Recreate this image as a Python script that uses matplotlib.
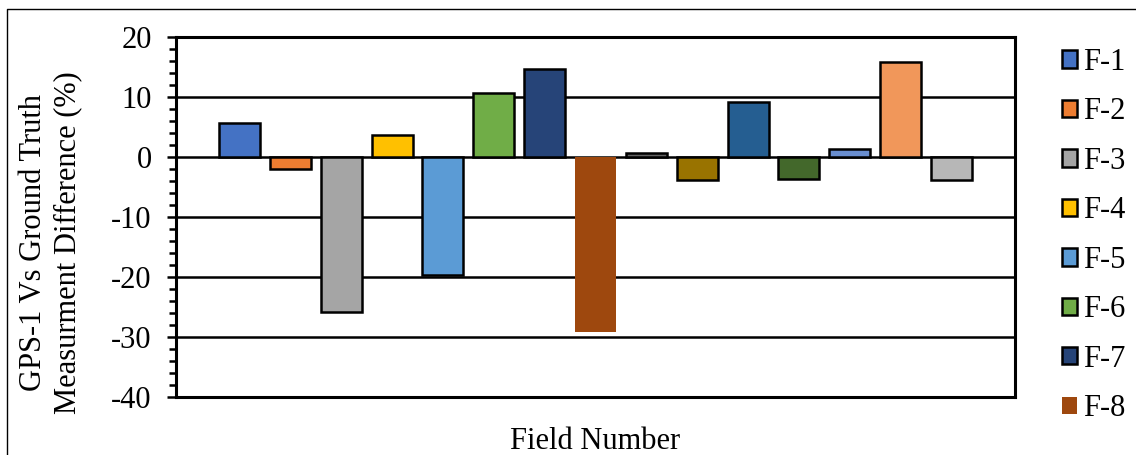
import numpy as np
import matplotlib.pyplot as plt
from matplotlib.lines import Line2D

plt.rcParams['font.family'] = ['Liberation Serif', 'DejaVu Serif']
plt.rcParams['axes.unicode_minus'] = False

fields = ['F-1', 'F-2', 'F-3', 'F-4', 'F-5', 'F-6', 'F-7', 'F-8',
          'F-9', 'F-10', 'F-11', 'F-12', 'F-13', 'F-14', 'F-15']
diff_pct = [5.7, -2.0, -25.9, 3.7, -19.7, 10.7, 14.7, -29.2,
            0.6, -3.9, 9.1, -3.7, 1.4, 15.9, -3.9]
colors = ['#4472C4', '#ED7D31', '#A5A5A5', '#FFC000', '#5B9BD5', '#70AD47',
          '#264478', '#9E480E', '#636363', '#997300', '#255E91', '#43682B',
          '#698ED0', '#F1975A', '#B7B7B7']

fig = plt.figure(figsize=(11.36, 4.55), dpi=100)
ax = fig.add_axes([0.1549, 0.1275, 0.7386, 0.7912])

x = np.arange(len(fields))
bars = []
for i, (name, val, c) in enumerate(zip(fields, diff_pct, colors)):
    edge = 'none' if name == 'F-8' else 'black'
    b = ax.bar(x[i], val, width=0.806, color=c, edgecolor=edge, linewidth=1.8,
               label=name, zorder=3)
    bars.append(b)

ax.set_xlim(-1.248, 15.248)
ax.set_ylim(-40, 20)
ax.set_yticks(np.arange(-40, 21, 10))
ax.set_yticks(np.arange(-40, 21, 2), minor=True)
ax.set_xticks([])
ax.yaxis.grid(True, which='major', color='black', linewidth=1.8, zorder=1)
ax.set_axisbelow(True)
for s in ax.spines.values():
    s.set_linewidth(2.2)
    s.set_color('black')
ax.tick_params(axis='y', which='major', length=6.5, width=1.8, pad=11,
               labelsize=22, direction='out')
ax.tick_params(axis='y', which='minor', length=5, width=1.8, direction='out')

fig.text(0.0445, 0.466, 'GPS-1 Vs Ground Truth\nMeasurment Difference (%)',
         rotation=90, ha='center', va='center', multialignment='center',
         fontsize=22, linespacing=1.25)
fig.text(0.524, 0.0132, 'Field Number', ha='center', va='baseline', fontsize=22)

# only the first eight series fit in the legend box
ax.legend(handles=bars[:8], loc='upper left', bbox_to_anchor=(0.935, 0.895),
          bbox_transform=fig.transFigure, frameon=False, fontsize=22,
          handlelength=0.5, handleheight=0.5, handletextpad=0.18,
          labelspacing=0.67, borderaxespad=0, borderpad=0)

# thin frame around the chart area
fig.add_artist(Line2D([7 / 1136, 7 / 1136, 1.0], [0.0, 1 - 9 / 455, 1 - 9 / 455],
                      transform=fig.transFigure, color='black', linewidth=1.0))

fig.savefig('out.png', dpi=100)
